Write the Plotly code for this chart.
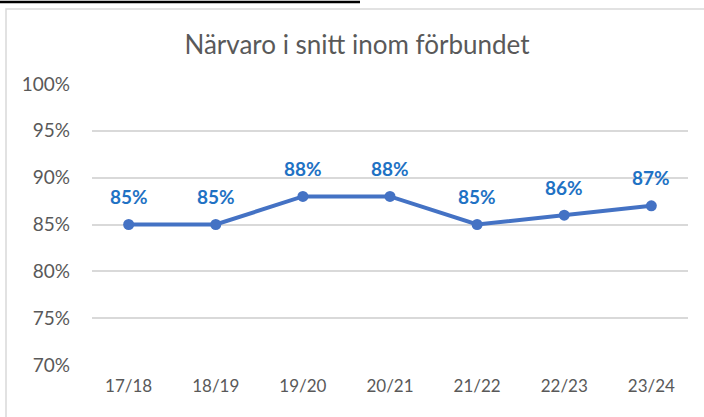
import plotly.graph_objects as go

seasons = ["17/18", "18/19", "19/20", "20/21", "21/22", "22/23", "23/24"]
attendance = [85, 85, 88, 88, 85, 86, 87]
y_ticks = [70, 75, 80, 85, 90, 95, 100]
title = "Närvaro i snitt inom förbundet"

W, H = 704, 417
L, R, T, B = 92, 16, 84, 52
pw, ph = W - L - R, H - T - B

def px_x(x):
    return (x - L) / pw

def px_y(y):
    return (H - B - y) / ph

fig = go.Figure()
fig.add_trace(go.Scatter(
    x=seasons, y=attendance, mode="lines+markers",
    line=dict(color="#4472C4", width=4),
    marker=dict(color="#4472C4", size=11),
    hoverinfo="skip", cliponaxis=False,
))

for s, v in zip(seasons, attendance):
    fig.add_annotation(x=s, y=v, text=f"<b>{v}%</b>", showarrow=False, yshift=28,
                       font=dict(family="Lato, sans-serif", size=19, color="#1F72C4"),
                       xref="x", yref="y")

# chart border
fig.add_shape(type="rect", xref="paper", yref="paper",
              x0=px_x(6), x1=px_x(720), y0=px_y(430), y1=px_y(9),
              line=dict(color="#D9D9D9", width=1.5), layer="below")
# heading underline fragment at top
fig.add_shape(type="line", xref="paper", yref="paper",
              x0=px_x(0), x1=px_x(360), y0=px_y(2), y1=px_y(2),
              line=dict(color="#000000", width=2.5))

fig.update_layout(
    width=W, height=H,
    margin=dict(l=L, r=R, t=T, b=B),
    paper_bgcolor="white", plot_bgcolor="white",
    showlegend=False,
    title=dict(text=title, x=357 / W, xanchor="center", y=1 - 45 / H, yanchor="middle",
               font=dict(family="Lato, sans-serif", size=26, color="#595959")),
    font=dict(family="Lato, sans-serif", color="#595959"),
)
fig.update_xaxes(type="category", showgrid=False, showline=False, zeroline=False,
                 tickfont=dict(size=17, color="#595959"), ticks="", ticklabelstandoff=9,
                 fixedrange=True)
fig.update_yaxes(range=[70, 100], tickvals=y_ticks, ticktext=[f"{t}%" for t in y_ticks],
                 showgrid=True, gridcolor="#D9D9D9", gridwidth=1.5, zeroline=False,
                 showline=False, ticks="", ticklabelstandoff=21,
                 tickfont=dict(size=19, color="#595959"), fixedrange=True)

fig.write_html("out.html", config={"displayModeBar": False},
               post_script="document.body.style.margin='0';")
